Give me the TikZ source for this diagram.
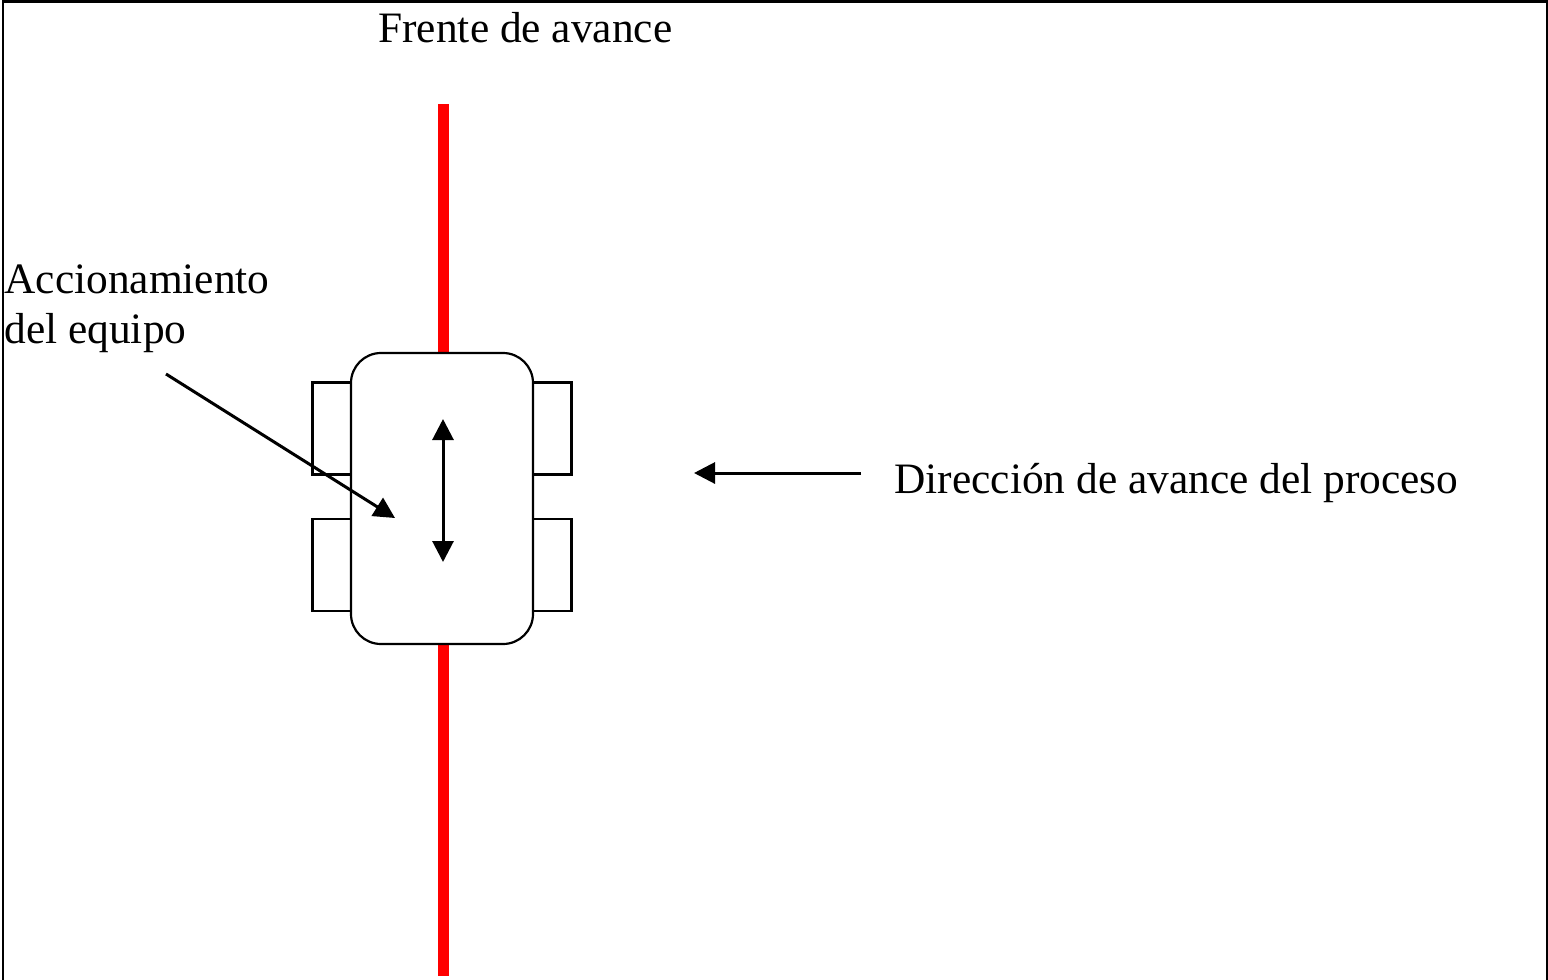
\documentclass[tikz,border=0pt]{standalone}
\usepackage{fontspec}
\setmainfont{Liberation Serif}
\usetikzlibrary{arrows.meta,positioning}
\tikzset{
	tire/.style={draw,line width=1.1pt,fill=white,minimum width=19.5pt,minimum height=46pt,inner sep=0pt},
	label/.style={inner sep=0pt,anchor=base west,font=\fontsize{21.7pt}{26pt}\selectfont},
	pointer/.style={-{Triangle[length=10.5pt,width=10.5pt]},line width=1.5pt},
}
\begin{document}
\begin{tikzpicture}[x=0.5pt,y=-0.5pt]
	\useasboundingbox (0,0) rectangle (1548,980);
	%frame, open at the bottom
	\draw [line width=1.2pt] (3,980) -- (3,1.5) -- (1547,1.5) -- (1547,980);
	%red line behind the carriage
	\coordinate (top) at (443,104);
	\coordinate (bottom) at (443,976);
	\draw [red,line width=5.5pt] (top) -- (bottom);
	%wheels
	\node [tire] (wheelA) at (332,428.5) {};
	\node [tire] (wheelB) at (332,565) {};
	\node [tire] (wheelC) at (552,428.5) {};
	\node [tire] (wheelD) at (552,565) {};
	%body
	\node [draw,line width=1.1pt,fill=white,rounded corners=15pt,minimum width=91pt,minimum height=145.5pt,inner sep=0pt] (body) at (442,498.5) {};
	\coordinate (upper) at (443,419);
	\coordinate (lower) at (443,562);
	\draw [pointer,{Triangle[length=10.5pt,width=10.5pt]}-{Triangle[length=10.5pt,width=10.5pt]}] (upper) -- (lower);
	%labels
	\node [label] (front) at (378,42.5) {Frente de avance};
	\node [label] (drive) at (4,293.5) {Accionamiento};
	\node [label] (team) at (4,343.5) {del equipo};
	\node [label] (process) at (894,493) {Dirección de avance del proceso};
	\coordinate (driveStart) at (166,374);
	\coordinate (driveEnd) at (395,518);
	\draw [pointer] (driveStart) -- (driveEnd);
	\coordinate (dirStart) at (861,473);
	\coordinate (dirEnd) at (694,473);
	\draw [pointer] (dirStart) -- (dirEnd);
\end{tikzpicture}
\end{document}
